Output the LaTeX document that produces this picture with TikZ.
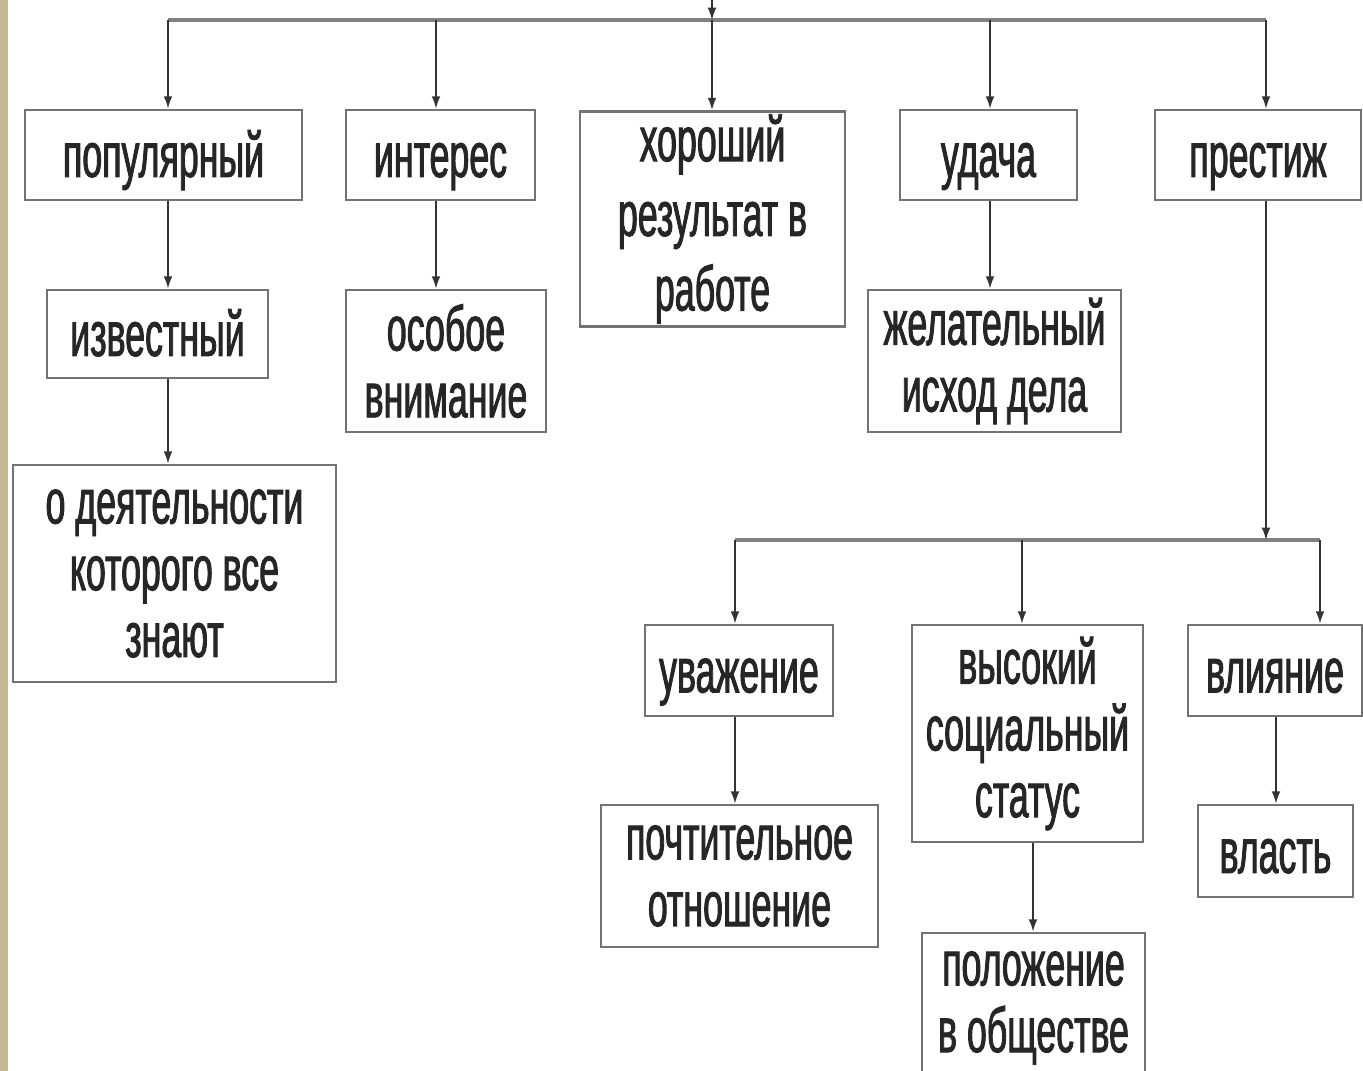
\documentclass[tikz,border=0pt]{standalone}
\usepackage{fontspec}
\setmainfont{Liberation Sans}[FakeStretch=0.565,FakeBold=1.4]
\usetikzlibrary{arrows.meta}
\definecolor{strip}{RGB}{196,186,146}

\begin{document}
\begin{tikzpicture}[x=0.02cm,y=-0.02cm,
        box/.style={draw=black!55,line width=1.6pt,fill=white,inner sep=0pt,
            align=center,text=black!85,font=\fontsize{36}{38}\selectfont},
        one/.style={text height=25pt,text depth=0pt},
        arr/.style={draw=black!80,line width=0.9pt,-{Latex[length=7pt,width=5pt]}},
        bus/.style={draw=black!50,line width=2.2pt}]
\useasboundingbox (0,0) rectangle (1363,1071);
\clip (0,0) rectangle (1363,1071);
\fill[white] (0,0) rectangle (1363,1071);
\fill[strip] (0,0) rectangle (8,1071);

\node[box,one,minimum width=5.54cm,minimum height=1.8cm] (pop) at (163.5,155) {популярный};
\node[box,one,minimum width=3.78cm,minimum height=1.8cm] (inter) at (440.5,155) {интерес};
\node[box,minimum width=5.3cm,minimum height=4.3cm,font=\fontsize{36}{42.5}\selectfont] (horosh) at (712.5,219) {хороший\\результат в\\работе};
\node[box,one,minimum width=3.54cm,minimum height=1.8cm] (udacha) at (988.5,155) {удача};
\node[box,one,minimum width=4.12cm,minimum height=1.8cm] (prest) at (1258,155) {престиж};

\node[box,one,minimum width=4.42cm,minimum height=1.76cm] (izv) at (157.5,334) {известный};
\node[box,minimum width=4cm,minimum height=2.84cm] (osob) at (446,361) {особое\\внимание};
\node[box,minimum width=5.06cm,minimum height=2.84cm] (zhel) at (994.5,361) {желательный\\исход дела};
\node[box,minimum width=6.46cm,minimum height=4.34cm] (deyat) at (174.5,573.5) {о деятельности\\которого все\\знают};

\node[box,one,minimum width=3.76cm,minimum height=1.82cm] (uvazh) at (739,670.5) {уважение};
\node[box,minimum width=4.62cm,minimum height=4.34cm] (status) at (1027.5,733.5) {высокий\\социальный\\статус};
\node[box,one,minimum width=3.48cm,minimum height=1.82cm] (vliyan) at (1275,670.5) {влияние};
\node[box,minimum width=5.54cm,minimum height=2.84cm] (pocht) at (739.5,876) {почтительное\\отношение};
\node[box,minimum width=4.46cm,minimum height=3cm] (polozh) at (1033.5,1008) {положение\\в обществе};
\node[box,one,minimum width=3.1cm,minimum height=1.84cm] (vlast) at (1275.5,851) {власть};

\coordinate (top) at (712,-4);
\coordinate (c1) at (168,20);
\coordinate (c2) at (436,20);
\coordinate (c3) at (712,20);
\coordinate (c4) at (990,20);
\coordinate (c5) at (1266,20);
\coordinate (d1) at (735,540);
\coordinate (d2) at (1022,540);
\coordinate (d3) at (1320,540);

\draw[bus] (c1) -- (c5);
\draw[arr] (top) -- (c3);
\draw[arr] (c1) -- (c1 |- pop.north);
\draw[arr] (c2) -- (c2 |- inter.north);
\draw[arr] (c3) -- (c3 |- horosh.north);
\draw[arr] (c4) -- (c4 |- udacha.north);
\draw[arr] (c5) -- (c5 |- prest.north);

\draw[arr] (c1 |- pop.south) -- (c1 |- izv.north);
\draw[arr] (c1 |- izv.south) -- (c1 |- deyat.north);
\draw[arr] (c2 |- inter.south) -- (c2 |- osob.north);
\draw[arr] (c4 |- udacha.south) -- (c4 |- zhel.north);

\draw[bus] (d1) -- (d3);
\draw[arr] (c5 |- prest.south) -- (c5 |- d1);
\draw[arr] (d1) -- (d1 |- uvazh.north);
\draw[arr] (d2) -- (d2 |- status.north);
\draw[arr] (d3) -- (d3 |- vliyan.north);

\draw[arr] (d1 |- uvazh.south) -- (d1 |- pocht.north);
\draw[arr] (1033,0 |- status.south) -- (1033,0 |- polozh.north);
\draw[arr] (1276,0 |- vliyan.south) -- (1276,0 |- vlast.north);
\end{tikzpicture}
\end{document}
